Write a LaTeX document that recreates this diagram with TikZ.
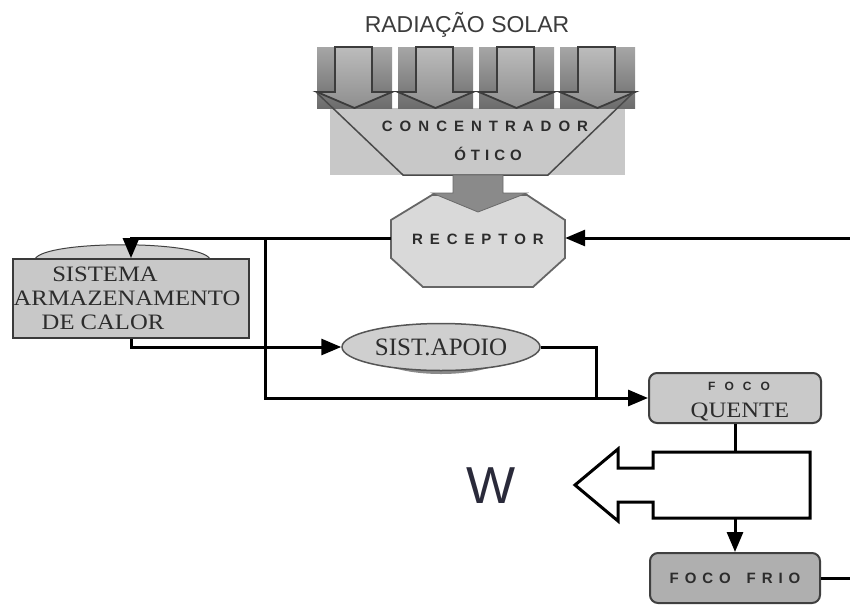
\documentclass[tikz,border=0pt]{standalone}
\usepackage{fontspec}
\setmainfont{Liberation Serif}
\newfontfamily\lsans{Liberation Sans}
\newfontfamily\wideserif[FakeStretch=1.12]{Liberation Serif}
\usetikzlibrary{arrows.meta,shapes.geometric}
\newdimen\spk
\makeatletter
\def\spc#1{\spc@a#1\relax}
\def\spc@a#1{\ifx#1\relax\unkern\else#1\kern\spk\expandafter\spc@a\fi}
\makeatother
\definecolor{titlegray}{HTML}{3C3C3C}
\definecolor{bandtop}{HTML}{A6A6A6}
\definecolor{bandbot}{HTML}{6C6C6C}
\definecolor{arrtop}{HTML}{BCBCBC}
\definecolor{arrbot}{HTML}{8E8E8E}
\definecolor{arrline}{HTML}{3C3C3C}
\definecolor{concfill}{HTML}{C8C8C8}
\definecolor{trapline}{HTML}{4A4A4A}
\definecolor{stemfill}{HTML}{8A8A8A}
\definecolor{stemline}{HTML}{6A6A6A}
\definecolor{recfill}{HTML}{D9D9D9}
\definecolor{recline}{HTML}{666666}
\definecolor{sisfill}{HTML}{C8C8C8}
\definecolor{sisline}{HTML}{3A3A3A}
\definecolor{arcfill}{HTML}{D0D0D0}
\definecolor{ellfill}{HTML}{CFCFCF}
\definecolor{ellline}{HTML}{555555}
\definecolor{shadowc}{HTML}{8A8A8A}
\definecolor{fqfill}{HTML}{C9C9C9}
\definecolor{fffill}{HTML}{AFAFAF}
\definecolor{boxline}{HTML}{404040}
\definecolor{txt}{HTML}{2C2C2C}
\definecolor{wcol}{HTML}{2A2A3A}
\tikzset{
  conn/.style={line width=3pt, black},
  arr/.style={conn, -{Triangle[length=20pt,width=16pt]}},
  spaced/.style={font=\lsans\bfseries\fontsize{15}{15}\selectfont, text=txt, inner sep=0},
  sertext/.style={font=\wideserif\fontsize{22}{22}\selectfont, text=txt, inner sep=0},
  roundbox/.style={draw=boxline, line width=2pt, rounded corners=8pt, inner sep=0},
}
\begin{document}
\begin{tikzpicture}[x=1pt,y=-1pt]
\useasboundingbox (0,0) rectangle (850,605);
% title
\node[font=\lsans\fontsize{23}{23}\selectfont, text=titlegray, anchor=base, inner sep=0] (title) at (467,32) {RADIAÇÃO SOLAR};
% concentrator body
\fill[concfill] (330,108) rectangle (625,175);
% band with solar arrows
\foreach \i in {0,1,2,3} {
  \pgfmathsetmacro\L{317+81*\i}
  \shade[top color=bandtop, bottom color=bandbot] (\L,47) rectangle ({\L+75},108);
  \shadedraw[top color=arrtop, bottom color=arrbot, draw=arrline, line width=1.8pt, line join=miter]
    ({\L+18},47) -- ({\L+55},47) -- ({\L+55},92) -- ({\L+75},92) -- ({\L+37.5},108) -- (\L,92) -- ({\L+18},92) -- cycle;
}
\draw[trapline, line width=1.5pt] (317,93) -- (403,175) -- (548,175) -- (633,93);
\node[spaced, anchor=base] (conc1) at (485,131) {\spk=7pt\spc{CONCENTRADOR}};
\node[spaced, anchor=base] (conc2) at (488,160) {\spk=5pt\spc{ÓTICO}};
% receptor
\filldraw[fill=recfill, draw=recline, line width=1.8pt] (432,195) -- (527,195) -- (565,220) -- (565,258) -- (533,287) -- (423,287) -- (391,258) -- (391,220) -- cycle;
\node[spaced, minimum width=174pt] (rec) at (478,239) {\spk=6.9pt\spc{RECEPTOR}};
% gray arrow concentrator -> receptor
\filldraw[fill=stemfill, draw=stemline, line width=0.8pt] (453,175) -- (503,175) -- (503,193) -- (527,193) -- (478,212) -- (432,193) -- (453,193) -- cycle;
% storage system
\filldraw[fill=arcfill, draw=black!75, line width=1pt] (35,259) .. controls (45,240) and (200,240) .. (210,259) -- cycle;
\node[draw=sisline, fill=sisfill, line width=1.8pt, inner sep=0, minimum width=236pt, minimum height=79pt] (sis) at (131,298.5) {};
\node[sertext, anchor=base] (sis1) at (105,281) {SISTEMA};
\node[sertext, anchor=base] (sis2) at (127,305) {ARMAZENAMENTO};
\node[sertext, anchor=base] (sis3) at (103,329) {DE CALOR};
% support system
\fill[shadowc] (441,351) ellipse [x radius=70, y radius=23];
\node[ellipse, draw=ellline, fill=ellfill, line width=1.5pt, minimum width=198pt, minimum height=47pt, inner sep=0, font=\fontsize{25}{25}\selectfont, text=txt] (apoio) at (441,347) {SIST.APOIO};
% hot source
\node[roundbox, fill=fqfill, minimum width=172pt, minimum height=50pt] (fq) at (735,398) {};
\node[spaced, font=\lsans\bfseries\fontsize{12}{12}\selectfont, anchor=base] (fq1) at (739,390) {\spk=9pt\spc{FOCO}};
\node[sertext, font=\wideserif\fontsize{22}{22}\selectfont, anchor=base] (fq2) at (740,417) {QUENTE};
% cold source
\node[roundbox, fill=fffill, minimum width=170pt, minimum height=50pt] (ff) at (735,578) {};
\node[spaced, anchor=base] (ff1) at (735,583) {\spk=5.9pt\spc{FOCO\ FRIO}};
% work arrow
\filldraw[fill=white, draw=black, line width=3pt, line join=miter] (653,452) -- (810,452) -- (810,518) -- (653,518) -- (653,502) -- (618,502) -- (618,521) -- (575,485) -- (618,449) -- (618,468) -- (653,468) -- cycle;
\coordinate (wtop) at (735,452);
\coordinate (wbot) at (735,518);
\node[font=\lsans\fontsize{52}{52}\selectfont, text=wcol, inner sep=0] (w) at (491,486) {W};
% connectors
\coordinate (rin) at (850,238);
\coordinate (j1) at (265,238);
\coordinate (j2) at (596,398);
\coordinate (fout) at (850,578);
\draw[arr] (rin) -- (rec.east |- rin);
\draw[arr] (rec.west |- rin) -| (sis.north);
\draw[arr] (j1) |- (fq.west);
\draw[arr] (sis.south) |- (apoio.west);
\draw[conn] (apoio.east) -| (j2);
\draw[conn] (fq.south) -- (wtop);
\draw[arr] (wbot) -- (ff.north);
\draw[conn] (ff.east) -- (fout);
\end{tikzpicture}
\end{document}
